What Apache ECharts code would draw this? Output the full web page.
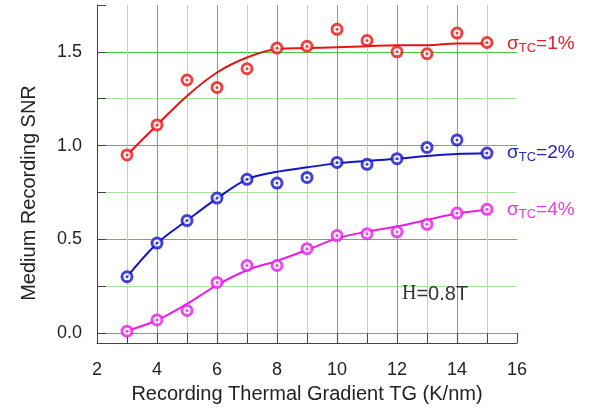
<!DOCTYPE html>
<html>
<head>
<meta charset="utf-8">
<script src="https://cdn.jsdelivr.net/npm/echarts@6/dist/echarts.min.js"></script>
<style>
  html, body { margin: 0; padding: 0; background: #fff; }
  #chart { width: 600px; height: 413px; }
</style>
</head>
<body>
<div id="chart"></div>
<script>
// Recording thermal gradient (K/nm)
const tg = [3, 4, 5, 6, 7, 8, 9, 10, 11, 12, 13, 14, 15];

// Measured medium recording SNR for each TC distribution width
const snr1 = [0.95, 1.11, 1.35, 1.31, 1.41, 1.52, 1.53, 1.62, 1.56, 1.50, 1.49, 1.60, 1.55];
const snr2 = [0.30, 0.48, 0.60, 0.72, 0.82, 0.80, 0.83, 0.91, 0.90, 0.93, 0.99, 1.03, 0.96];
const snr4 = [0.01, 0.07, 0.12, 0.27, 0.36, 0.36, 0.45, 0.52, 0.53, 0.54, 0.58, 0.64, 0.66];

// Fitted trend curves
const fit1 = [0.95, 1.11, 1.265, 1.39, 1.47, 1.515, 1.52, 1.525, 1.53, 1.535, 1.535, 1.545, 1.545];
const fit2 = [0.30, 0.478, 0.60, 0.718, 0.82, 0.86, 0.884, 0.905, 0.918, 0.93, 0.945, 0.955, 0.959];
const fit4 = [0.012, 0.068, 0.155, 0.256, 0.335, 0.385, 0.443, 0.505, 0.541, 0.568, 0.603, 0.637, 0.657];

// Curve labels (σ_TC values)
const sigmaLabels = ['1%', '2%', '4%'];
const fieldLabel = '0.8T';

const xTicks = [2, 4, 6, 8, 10, 12, 14, 16];
const yTicks = [0.0, 0.5, 1.0, 1.5];

const colors = ['#e81414', '#1414c8', '#e61ee6'];
const labelColors = ['#e0202c', '#2a2ab4', '#e040e0'];

const pairs = (xs, ys) => xs.map((x, i) => [x, ys[i]]);

const green = '#46cc3c';
const paleGreen = '#a6e69c';
const font = '"Liberation Sans", Arial, sans-serif';

function curveSeries(fit, idx) {
  return {
    type: 'line',
    data: pairs(tg, fit),
    smooth: 0.35,
    showSymbol: false,
    lineStyle: { color: colors[idx], width: 2 },
    z: 3,
    endLabel: {
      show: true,
      distance: 20,
      formatter: () => '{s|σ}{sub|TC}{s|=' + sigmaLabels[idx] + '}',
      rich: {
        s: { fontSize: 19, fontFamily: font, color: labelColors[idx], lineHeight: 22 },
        sub: { fontSize: 13, fontFamily: font, color: labelColors[idx], lineHeight: 12, verticalAlign: 'bottom' }
      }
    }
  };
}

function ringSeries(vals, idx) {
  return {
    type: 'scatter',
    data: pairs(tg, vals),
    symbol: 'circle',
    symbolSize: 10,
    itemStyle: { color: '#ffffff', borderColor: colors[idx], borderWidth: 3 },
    z: 4
  };
}

function dotSeries(vals, idx) {
  return {
    type: 'scatter',
    data: pairs(tg, vals),
    symbol: 'circle',
    symbolSize: 3,
    itemStyle: { color: colors[idx] },
    silent: true,
    z: 5
  };
}

const chart = echarts.init(document.getElementById('chart'), null, { renderer: 'canvas' });

chart.setOption({
  animation: false,
  backgroundColor: '#ffffff',
  grid: { left: 97, right: 83, top: 5, bottom: 80 },
  xAxis: [
    {
      // main axis: ticks at every unit, labels on even values, light minor grid
      type: 'value', position: 'bottom', min: 2, max: 16, interval: 1,
      offset: 10,
      name: 'Recording Thermal Gradient TG (K/nm)',
      nameLocation: 'middle',
      nameGap: 41,
      nameTextStyle: { fontSize: 20, fontFamily: font, color: '#222' },
      axisLine: { show: true, onZero: false, lineStyle: { color: '#444', width: 1 } },
      axisTick: { show: true, inside: true, length: 10, lineStyle: { color: '#444' } },
      axisLabel: {
        fontSize: 18, fontFamily: font, color: '#222', margin: 18,
        formatter: v => (xTicks.indexOf(v) >= 0 ? String(v) : '')
      },
      splitLine: { show: true, showMinLine: false, showMaxLine: false, lineStyle: { color: paleGreen, width: 1, type: 'solid' } }
    },
    {
      // solid major grid every 2 units
      type: 'value', position: 'bottom', min: 2, max: 16, interval: 2,
      axisLine: { show: false }, axisTick: { show: false }, axisLabel: { show: false },
      splitLine: { show: true, showMinLine: false, showMaxLine: false, lineStyle: { color: green, width: 1, type: 'solid' } }
    }
  ],
  yAxis: [
    {
      type: 'value', position: 'left', min: 0, max: 1.75, interval: 0.25,
      name: 'Medium Recording SNR',
      nameLocation: 'middle',
      nameGap: 58,
      nameRotate: 90,
      nameTextStyle: { fontSize: 20, fontFamily: font, color: '#222', padding: [0, 48, 0, 0] },
      axisLine: { show: true, onZero: false, lineStyle: { color: '#444', width: 1 } },
      axisTick: { show: true, inside: true, length: 9, lineStyle: { color: '#444' } },
      axisLabel: {
        fontSize: 18, fontFamily: font, color: '#222', margin: 15,
        formatter: v => {
          const hit = yTicks.find(t => Math.abs(t - v) < 1e-9);
          return hit === undefined ? '' : hit.toFixed(1);
        }
      },
      splitLine: { show: true, showMaxLine: false, lineStyle: { color: paleGreen, width: 1, type: 'solid' } }
    },
    {
      // solid major grid every 0.5
      type: 'value', position: 'left', min: 0, max: 1.75, interval: 0.5,
      axisLine: { show: false }, axisTick: { show: false }, axisLabel: { show: false },
      splitLine: { show: true, showMaxLine: false, lineStyle: { color: green, width: 1, type: 'solid' } }
    }
  ],
  graphic: [
    {
      type: 'text',
      left: 402,
      top: 284,
      style: {
        text: '{h|H}{t|=' + fieldLabel + '}',
        rich: {
          h: { fontSize: 20, fontFamily: '"Liberation Serif", "Times New Roman", serif', fill: '#333' },
          t: { fontSize: 20, fontFamily: font, fill: '#333' }
        }
      },
      z: 10
    }
  ],
  series: [
    curveSeries(fit1, 0), curveSeries(fit2, 1), curveSeries(fit4, 2),
    ringSeries(snr1, 0), ringSeries(snr2, 1), ringSeries(snr4, 2),
    dotSeries(snr1, 0), dotSeries(snr2, 1), dotSeries(snr4, 2)
  ]
});
</script>
</body>
</html>
